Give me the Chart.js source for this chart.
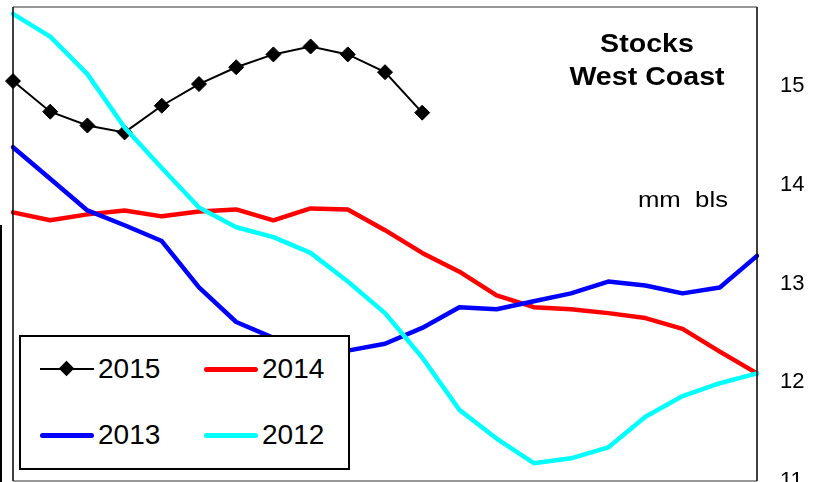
<!DOCTYPE html>
<html>
<head>
<meta charset="utf-8">
<script src="https://cdn.jsdelivr.net/npm/chart.js@4"></script>
<style>
  body { margin: 0; background: #fff; font-family: "Liberation Sans", Arial, sans-serif; }
  #wrap { position: relative; width: 818px; height: 482px; overflow: hidden; }
  #title { position: absolute; left: 547px; top: 27px; width: 200px; text-align: center; font-weight: bold; font-size: 26px; line-height: 33px; transform: scaleX(1.1); }
  #unit { position: absolute; left: 600px; top: 187px; width: 128px; text-align: right; font-size: 22px; white-space: pre; transform: scaleX(1.17); transform-origin: right center; }
  #stray { position: absolute; left: 0; top: 225px; width: 2px; height: 257px; background: #000; }
  #legend { position: absolute; left: 19px; top: 335px; width: 331px; height: 135px; box-sizing: border-box; border: 2px solid #000; background: #fff; }
  .smp { position: absolute; width: 54px; height: 5px; border-radius: 3px; }
  .lbl { position: absolute; font-size: 28px; line-height: 30px; }
</style>
</head>
<body>
<div id="wrap">
  <canvas id="c" width="818" height="482"></canvas>
  <div id="stray"></div>
  <div id="title">Stocks<br>West Coast</div>
  <div id="unit">mm  bls</div>
  <div id="legend">
    <div class="smp" style="left:19px;top:31px;height:2px;border-radius:0;background:#000"></div>
    <div style="position:absolute;left:40px;top:26px;width:11px;height:11px;background:#000;transform:rotate(45deg)"></div>
    <div class="lbl" style="left:77px;top:17px">2015</div>
    <div class="smp" style="left:183px;top:30px;background:#f00"></div>
    <div class="lbl" style="left:241px;top:17px">2014</div>
    <div class="smp" style="left:19px;top:96px;background:#00f"></div>
    <div class="lbl" style="left:77px;top:83px">2013</div>
    <div class="smp" style="left:183px;top:96px;background:#0ff"></div>
    <div class="lbl" style="left:241px;top:83px">2012</div>
  </div>
</div>
<script>
const weeks = ["1","2","3","4","5","6","7","8","9","10","11","12","13","14","15","16","17","18","19","20","21"];
const stocks2015 = [15.05, 14.74, 14.60, 14.53, 14.80, 15.02, 15.19, 15.32, 15.40, 15.32, 15.14, 14.73, null, null, null, null, null, null, null, null, null];
const stocks2014 = [13.72, 13.64, 13.70, 13.74, 13.68, 13.73, 13.75, 13.64, 13.76, 13.75, 13.54, 13.31, 13.12, 12.88, 12.76, 12.74, 12.70, 12.65, 12.54, 12.31, 12.09];
const stocks2013 = [14.38, 14.06, 13.74, 13.59, 13.43, 12.96, 12.61, 12.45, 12.33, 12.32, 12.39, 12.55, 12.76, 12.74, 12.82, 12.90, 13.02, 12.98, 12.90, 12.96, 13.28];
const stocks2012 = [15.73, 15.50, 15.12, 14.58, 14.17, 13.77, 13.57, 13.47, 13.31, 13.02, 12.70, 12.25, 11.72, 11.43, 11.18, 11.23, 11.34, 11.65, 11.86, 11.99, 12.09];
const yTicks = [11, 12, 13, 14, 15];

const frame = {
  id: "frame",
  afterDraw(chart) {
    const { ctx, chartArea: a } = chart;
    ctx.save();
    ctx.lineWidth = 1.5;
    ctx.strokeStyle = "#777";
    ctx.beginPath();
    ctx.moveTo(a.left, a.top); ctx.lineTo(a.right, a.top);
    ctx.moveTo(a.left, a.bottom); ctx.lineTo(a.right, a.bottom);
    ctx.stroke();
    ctx.strokeStyle = "#000";
    ctx.beginPath();
    ctx.moveTo(a.left, a.top); ctx.lineTo(a.left, a.bottom);
    ctx.moveTo(a.right, a.top); ctx.lineTo(a.right, a.bottom);
    ctx.stroke();
    ctx.restore();
  }
};

const thick = { borderWidth: 4.5, pointRadius: 0, tension: 0, borderJoinStyle: "round", borderCapStyle: "round" };

new Chart(document.getElementById("c"), {
  type: "line",
  data: {
    labels: weeks,
    datasets: [
      { label: "2015", data: stocks2015, borderColor: "#000", backgroundColor: "#000", borderWidth: 2, pointStyle: "rectRot", pointRadius: 7.5, pointBorderWidth: 1, order: 3 },
      { label: "2014", data: stocks2014, borderColor: "#ff0000", order: 2, ...thick },
      { label: "2013", data: stocks2013, borderColor: "#0000ff", order: 1, ...thick },
      { label: "2012", data: stocks2012, borderColor: "#00ffff", order: 0, ...thick }
    ]
  },
  options: {
    responsive: false,
    animation: false,
    layout: { autoPadding: false, padding: { left: 13, top: 7, right: 0, bottom: 1 } },
    plugins: { legend: { display: false }, tooltip: { enabled: false } },
    scales: {
      x: { display: false, offset: false },
      y: {
        position: "right",
        min: 11, max: 15.8,
        afterBuildTicks: s => { s.ticks = yTicks.map(v => ({ value: v })); },
        afterFit: s => { s.width = 61; s.paddingTop = 0; s.paddingBottom = 0; },
        grid: { display: false, drawTicks: false },
        border: { display: false },
        ticks: { padding: 23, color: "#000", font: { family: "Liberation Sans", size: 22 } }
      }
    }
  },
  plugins: [frame]
});
</script>
</body>
</html>
